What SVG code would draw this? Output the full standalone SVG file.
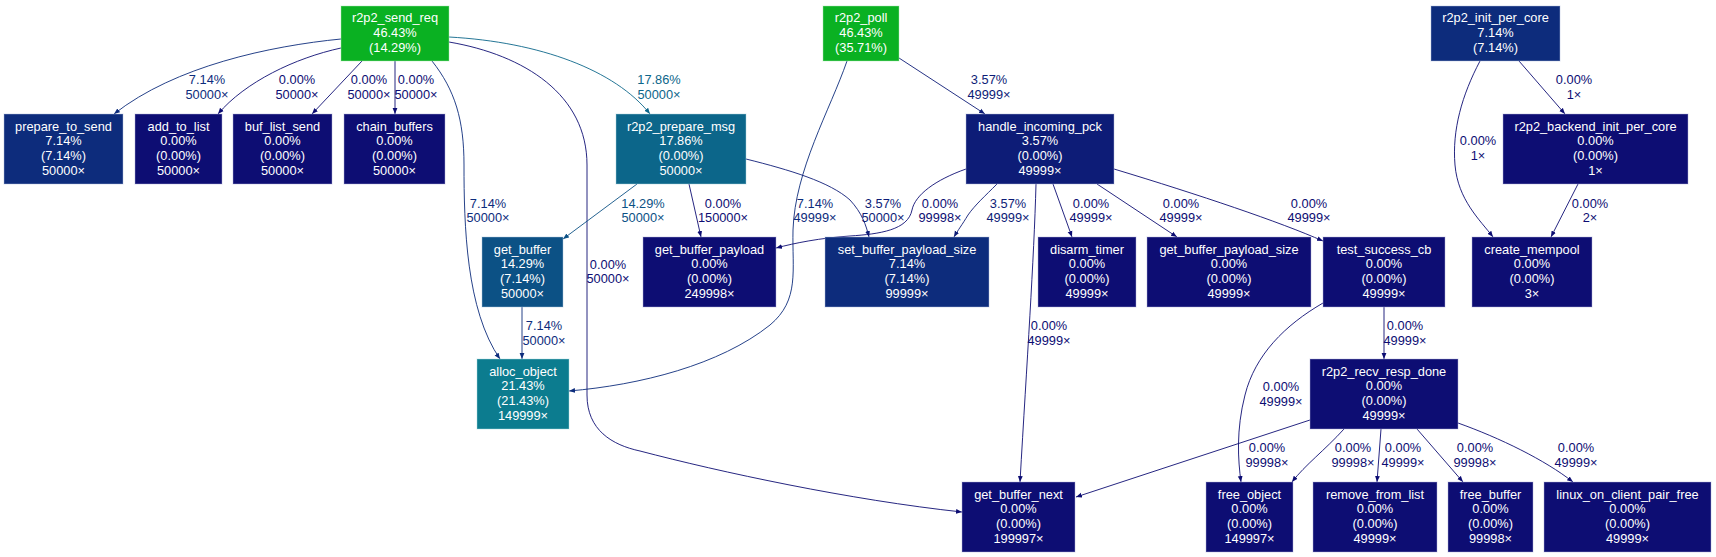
<svg xmlns="http://www.w3.org/2000/svg" width="1716" height="557" viewBox="0 0 1716 557">
<style>
text{font-family:"Liberation Sans",Arial,sans-serif;font-size:12.8px;text-anchor:middle}
.node text{fill:#ffffff}
.node rect{stroke-width:1;stroke-opacity:0.45}
.e{fill:none;stroke-width:0.9}
.c0{stroke:#0d0d73}.t0{fill:#0d0d73}
.c357{stroke:#0d1c77}.t357{fill:#0d1c77}
.c714{stroke:#0d2c7c}.t714{fill:#0d2c7c}
.c1429{stroke:#0c5185}.t1429{fill:#0c5185}
.c1786{stroke:#0c668a}.t1786{fill:#0c668a}
.f0{fill:#0d0d73;stroke:#b0b0d8}
.f357{fill:#0d1c77;stroke:#b0b6d8}
.f714{fill:#0d2c7c;stroke:#b0bcdc}
.f1429{fill:#0c5185;stroke:#a8c4dc}
.f1786{fill:#0c668a;stroke:#a8d0dc}
.f2143{fill:#0c7c8f;stroke:#a8dce0}
.f4643{fill:#0ab122;stroke:#a8e8b0}
</style>
<defs>
<marker id="a0" markerUnits="userSpaceOnUse" markerWidth="8" markerHeight="8" refX="6" refY="3" orient="auto"><path d="M0,0.6 L6,3 L0,5.4 Z" fill="#0d0d73"/></marker>
<marker id="a357" markerUnits="userSpaceOnUse" markerWidth="8" markerHeight="8" refX="6" refY="3" orient="auto"><path d="M0,0.6 L6,3 L0,5.4 Z" fill="#0d1c77"/></marker>
<marker id="a714" markerUnits="userSpaceOnUse" markerWidth="8" markerHeight="8" refX="6" refY="3" orient="auto"><path d="M0,0.6 L6,3 L0,5.4 Z" fill="#0d2c7c"/></marker>
<marker id="a1429" markerUnits="userSpaceOnUse" markerWidth="8" markerHeight="8" refX="6" refY="3" orient="auto"><path d="M0,0.6 L6,3 L0,5.4 Z" fill="#0c5185"/></marker>
<marker id="a1786" markerUnits="userSpaceOnUse" markerWidth="8" markerHeight="8" refX="6" refY="3" orient="auto"><path d="M0,0.6 L6,3 L0,5.4 Z" fill="#0c668a"/></marker>
</defs>
<rect width="1716" height="557" fill="#ffffff"/>

<g id="edges">
<path class="e c714" marker-end="url(#a714)" d="M341,39 C270,46 175,66 114,114"/>
<path class="e c0" marker-end="url(#a0)" d="M341,48 C295,58 245,82 218,114"/>
<path class="e c0" marker-end="url(#a0)" d="M362,61 L312,114"/>
<path class="e c0" marker-end="url(#a0)" d="M395,61 L395,114"/>
<path class="e c714" marker-end="url(#a714)" d="M432,61 C455,90 464,120 464,165 C464,225 466,310 500,359"/>
<path class="e c0" marker-end="url(#a0)" d="M449,42 C525,55 587,95 587,165 L587,395 C587,430 612,445 640,451 C720,472 850,500 962,512"/>
<path class="e c1786" marker-end="url(#a1786)" d="M449,37 C540,42 615,70 650,114"/>
<path class="e c714" marker-end="url(#a714)" d="M847,61 C830,110 795,170 793,230 C792,270 800,300 770,325 C720,365 640,385 569,391"/>
<path class="e c357" marker-end="url(#a357)" d="M899,58 L985,114"/>
<path class="e c0" marker-end="url(#a0)" d="M1519,61 L1565,114"/>
<path class="e c0" marker-end="url(#a0)" d="M1480,61 C1462,95 1452,130 1455,165 C1458,200 1480,220 1493,237"/>
<path class="e c0" marker-end="url(#a0)" d="M1578,184 L1551,237"/>
<path class="e c1429" marker-end="url(#a1429)" d="M637,184 L563,239"/>
<path class="e c0" marker-end="url(#a0)" d="M689,184 L701,237"/>
<path class="e c357" marker-end="url(#a357)" d="M746,159 C790,170 830,182 850,200 C862,213 866,225 869,237"/>
<path class="e c0" marker-end="url(#a0)" d="M966,169 C935,180 915,195 912,210 C908,230 880,234 850,236 C820,238 795,243 776,248"/>
<path class="e c357" marker-end="url(#a357)" d="M997,184 C985,196 975,205 968,215 C962,225 958,230 954,237"/>
<path class="e c0" marker-end="url(#a0)" d="M1036,184 C1034,260 1027,360 1020,482"/>
<path class="e c0" marker-end="url(#a0)" d="M1053,184 L1072,237"/>
<path class="e c0" marker-end="url(#a0)" d="M1097,184 L1177,237"/>
<path class="e c0" marker-end="url(#a0)" d="M1114,169 C1200,195 1280,222 1323,241"/>
<path class="e c0" marker-end="url(#a0)" d="M1384,307 L1384,359"/>
<path class="e c0" marker-end="url(#a0)" d="M1323,303 C1285,325 1255,355 1245,395 C1236,430 1238,460 1241,482"/>
<path class="e c0" marker-end="url(#a0)" d="M1310,420 L1076,497"/>
<path class="e c0" marker-end="url(#a0)" d="M1344,429 C1325,450 1305,465 1292,482"/>
<path class="e c0" marker-end="url(#a0)" d="M1381,429 L1377,482"/>
<path class="e c0" marker-end="url(#a0)" d="M1417,429 L1463,482"/>
<path class="e c0" marker-end="url(#a0)" d="M1458,423 C1500,438 1545,460 1573,482"/>
<path class="e c714" marker-end="url(#a714)" d="M522,307 L522,359"/>

<text class="t714" x="207" y="84">7.14%<tspan x="207" dy="14.7">50000×</tspan></text>
<text class="t0" x="297" y="84">0.00%<tspan x="297" dy="14.7">50000×</tspan></text>
<text class="t0" x="369" y="84">0.00%<tspan x="369" dy="14.7">50000×</tspan></text>
<text class="t0" x="416" y="84">0.00%<tspan x="416" dy="14.7">50000×</tspan></text>
<text class="t1786" x="659" y="84">17.86%<tspan x="659" dy="14.7">50000×</tspan></text>
<text class="t357" x="989" y="84">3.57%<tspan x="989" dy="14.7">49999×</tspan></text>
<text class="t0" x="1574" y="84">0.00%<tspan x="1574" dy="14.7">1×</tspan></text>
<text class="t0" x="1478" y="145">0.00%<tspan x="1478" dy="14.7">1×</tspan></text>
<text class="t714" x="488" y="207.5">7.14%<tspan x="488" dy="14.7">50000×</tspan></text>
<text class="t1429" x="643" y="207.5">14.29%<tspan x="643" dy="14.7">50000×</tspan></text>
<text class="t0" x="723" y="207.5">0.00%<tspan x="723" dy="14.7">150000×</tspan></text>
<text class="t714" x="815" y="207.5">7.14%<tspan x="815" dy="14.7">49999×</tspan></text>
<text class="t357" x="883" y="207.5">3.57%<tspan x="883" dy="14.7">50000×</tspan></text>
<text class="t0" x="940" y="207.5">0.00%<tspan x="940" dy="14.7">99998×</tspan></text>
<text class="t357" x="1008" y="207.5">3.57%<tspan x="1008" dy="14.7">49999×</tspan></text>
<text class="t0" x="1091" y="207.5">0.00%<tspan x="1091" dy="14.7">49999×</tspan></text>
<text class="t0" x="1181" y="207.5">0.00%<tspan x="1181" dy="14.7">49999×</tspan></text>
<text class="t0" x="1309" y="207.5">0.00%<tspan x="1309" dy="14.7">49999×</tspan></text>
<text class="t0" x="1590" y="207.5">0.00%<tspan x="1590" dy="14.7">2×</tspan></text>
<text class="t0" x="608" y="268.5">0.00%<tspan x="608" dy="14.7">50000×</tspan></text>
<text class="t714" x="544" y="330">7.14%<tspan x="544" dy="14.7">50000×</tspan></text>
<text class="t0" x="1049" y="330">0.00%<tspan x="1049" dy="14.7">49999×</tspan></text>
<text class="t0" x="1405" y="330">0.00%<tspan x="1405" dy="14.7">49999×</tspan></text>
<text class="t0" x="1281" y="391">0.00%<tspan x="1281" dy="14.7">49999×</tspan></text>
<text class="t0" x="1267" y="452">0.00%<tspan x="1267" dy="14.7">99998×</tspan></text>
<text class="t0" x="1353" y="452">0.00%<tspan x="1353" dy="14.7">99998×</tspan></text>
<text class="t0" x="1403" y="452">0.00%<tspan x="1403" dy="14.7">49999×</tspan></text>
<text class="t0" x="1475" y="452">0.00%<tspan x="1475" dy="14.7">99998×</tspan></text>
<text class="t0" x="1576" y="452">0.00%<tspan x="1576" dy="14.7">49999×</tspan></text>
</g>

<g id="node-r2p2_send_req" class="node"><rect class="f4643" x="341" y="6" width="108" height="55"/><text x="395" y="22.3">r2p2_send_req<tspan x="395" dy="14.7">46.43%</tspan><tspan x="395" dy="14.7">(14.29%)</tspan></text></g>
<g id="node-r2p2_poll" class="node"><rect class="f4643" x="823" y="6" width="76" height="55"/><text x="861" y="22.3">r2p2_poll<tspan x="861" dy="14.7">46.43%</tspan><tspan x="861" dy="14.7">(35.71%)</tspan></text></g>
<g id="node-r2p2_init_per_core" class="node"><rect class="f714" x="1431" y="6" width="129" height="55"/><text x="1495.5" y="22.3">r2p2_init_per_core<tspan x="1495.5" dy="14.7">7.14%</tspan><tspan x="1495.5" dy="14.7">(7.14%)</tspan></text></g>

<g id="node-prepare_to_send" class="node"><rect class="f714" x="4" y="114" width="119" height="70"/><text x="63.5" y="130.5">prepare_to_send<tspan x="63.5" dy="14.7">7.14%</tspan><tspan x="63.5" dy="14.7">(7.14%)</tspan><tspan x="63.5" dy="14.7">50000×</tspan></text></g>
<g id="node-add_to_list" class="node"><rect class="f0" x="135" y="114" width="87" height="70"/><text x="178.5" y="130.5">add_to_list<tspan x="178.5" dy="14.7">0.00%</tspan><tspan x="178.5" dy="14.7">(0.00%)</tspan><tspan x="178.5" dy="14.7">50000×</tspan></text></g>
<g id="node-buf_list_send" class="node"><rect class="f0" x="233" y="114" width="99" height="70"/><text x="282.5" y="130.5">buf_list_send<tspan x="282.5" dy="14.7">0.00%</tspan><tspan x="282.5" dy="14.7">(0.00%)</tspan><tspan x="282.5" dy="14.7">50000×</tspan></text></g>
<g id="node-chain_buffers" class="node"><rect class="f0" x="344" y="114" width="101" height="70"/><text x="394.5" y="130.5">chain_buffers<tspan x="394.5" dy="14.7">0.00%</tspan><tspan x="394.5" dy="14.7">(0.00%)</tspan><tspan x="394.5" dy="14.7">50000×</tspan></text></g>
<g id="node-r2p2_prepare_msg" class="node"><rect class="f1786" x="616" y="114" width="130" height="70"/><text x="681" y="130.5">r2p2_prepare_msg<tspan x="681" dy="14.7">17.86%</tspan><tspan x="681" dy="14.7">(0.00%)</tspan><tspan x="681" dy="14.7">50000×</tspan></text></g>
<g id="node-handle_incoming_pck" class="node"><rect class="f357" x="966" y="114" width="148" height="70"/><text x="1040" y="130.5">handle_incoming_pck<tspan x="1040" dy="14.7">3.57%</tspan><tspan x="1040" dy="14.7">(0.00%)</tspan><tspan x="1040" dy="14.7">49999×</tspan></text></g>
<g id="node-r2p2_backend_init_per_core" class="node"><rect class="f0" x="1503" y="114" width="185" height="70"/><text x="1595.5" y="130.5">r2p2_backend_init_per_core<tspan x="1595.5" dy="14.7">0.00%</tspan><tspan x="1595.5" dy="14.7">(0.00%)</tspan><tspan x="1595.5" dy="14.7">1×</tspan></text></g>

<g id="node-get_buffer" class="node"><rect class="f1429" x="482" y="237" width="81" height="70"/><text x="522.5" y="253.5">get_buffer<tspan x="522.5" dy="14.7">14.29%</tspan><tspan x="522.5" dy="14.7">(7.14%)</tspan><tspan x="522.5" dy="14.7">50000×</tspan></text></g>
<g id="node-get_buffer_payload" class="node"><rect class="f0" x="643" y="237" width="133" height="70"/><text x="709.5" y="253.5">get_buffer_payload<tspan x="709.5" dy="14.7">0.00%</tspan><tspan x="709.5" dy="14.7">(0.00%)</tspan><tspan x="709.5" dy="14.7">249998×</tspan></text></g>
<g id="node-set_buffer_payload_size" class="node"><rect class="f714" x="825" y="237" width="164" height="70"/><text x="907" y="253.5">set_buffer_payload_size<tspan x="907" dy="14.7">7.14%</tspan><tspan x="907" dy="14.7">(7.14%)</tspan><tspan x="907" dy="14.7">99999×</tspan></text></g>
<g id="node-disarm_timer" class="node"><rect class="f0" x="1038" y="237" width="98" height="70"/><text x="1087" y="253.5">disarm_timer<tspan x="1087" dy="14.7">0.00%</tspan><tspan x="1087" dy="14.7">(0.00%)</tspan><tspan x="1087" dy="14.7">49999×</tspan></text></g>
<g id="node-get_buffer_payload_size" class="node"><rect class="f0" x="1147" y="237" width="164" height="70"/><text x="1229" y="253.5">get_buffer_payload_size<tspan x="1229" dy="14.7">0.00%</tspan><tspan x="1229" dy="14.7">(0.00%)</tspan><tspan x="1229" dy="14.7">49999×</tspan></text></g>
<g id="node-test_success_cb" class="node"><rect class="f0" x="1323" y="237" width="122" height="70"/><text x="1384" y="253.5">test_success_cb<tspan x="1384" dy="14.7">0.00%</tspan><tspan x="1384" dy="14.7">(0.00%)</tspan><tspan x="1384" dy="14.7">49999×</tspan></text></g>
<g id="node-create_mempool" class="node"><rect class="f0" x="1472" y="237" width="120" height="70"/><text x="1532" y="253.5">create_mempool<tspan x="1532" dy="14.7">0.00%</tspan><tspan x="1532" dy="14.7">(0.00%)</tspan><tspan x="1532" dy="14.7">3×</tspan></text></g>

<g id="node-alloc_object" class="node"><rect class="f2143" x="477" y="359" width="92" height="70"/><text x="523" y="375.5">alloc_object<tspan x="523" dy="14.7">21.43%</tspan><tspan x="523" dy="14.7">(21.43%)</tspan><tspan x="523" dy="14.7">149999×</tspan></text></g>
<g id="node-r2p2_recv_resp_done" class="node"><rect class="f0" x="1310" y="359" width="148" height="70"/><text x="1384" y="375.5">r2p2_recv_resp_done<tspan x="1384" dy="14.7">0.00%</tspan><tspan x="1384" dy="14.7">(0.00%)</tspan><tspan x="1384" dy="14.7">49999×</tspan></text></g>

<g id="node-get_buffer_next" class="node"><rect class="f0" x="962" y="482" width="113" height="70"/><text x="1018.5" y="498.5">get_buffer_next<tspan x="1018.5" dy="14.7">0.00%</tspan><tspan x="1018.5" dy="14.7">(0.00%)</tspan><tspan x="1018.5" dy="14.7">199997×</tspan></text></g>
<g id="node-free_object" class="node"><rect class="f0" x="1206" y="482" width="87" height="70"/><text x="1249.5" y="498.5">free_object<tspan x="1249.5" dy="14.7">0.00%</tspan><tspan x="1249.5" dy="14.7">(0.00%)</tspan><tspan x="1249.5" dy="14.7">149997×</tspan></text></g>
<g id="node-remove_from_list" class="node"><rect class="f0" x="1313" y="482" width="124" height="70"/><text x="1375" y="498.5">remove_from_list<tspan x="1375" dy="14.7">0.00%</tspan><tspan x="1375" dy="14.7">(0.00%)</tspan><tspan x="1375" dy="14.7">49999×</tspan></text></g>
<g id="node-free_buffer" class="node"><rect class="f0" x="1448" y="482" width="85" height="70"/><text x="1490.5" y="498.5">free_buffer<tspan x="1490.5" dy="14.7">0.00%</tspan><tspan x="1490.5" dy="14.7">(0.00%)</tspan><tspan x="1490.5" dy="14.7">99998×</tspan></text></g>
<g id="node-linux_on_client_pair_free" class="node"><rect class="f0" x="1544" y="482" width="167" height="70"/><text x="1627.5" y="498.5">linux_on_client_pair_free<tspan x="1627.5" dy="14.7">0.00%</tspan><tspan x="1627.5" dy="14.7">(0.00%)</tspan><tspan x="1627.5" dy="14.7">49999×</tspan></text></g>
</svg>
